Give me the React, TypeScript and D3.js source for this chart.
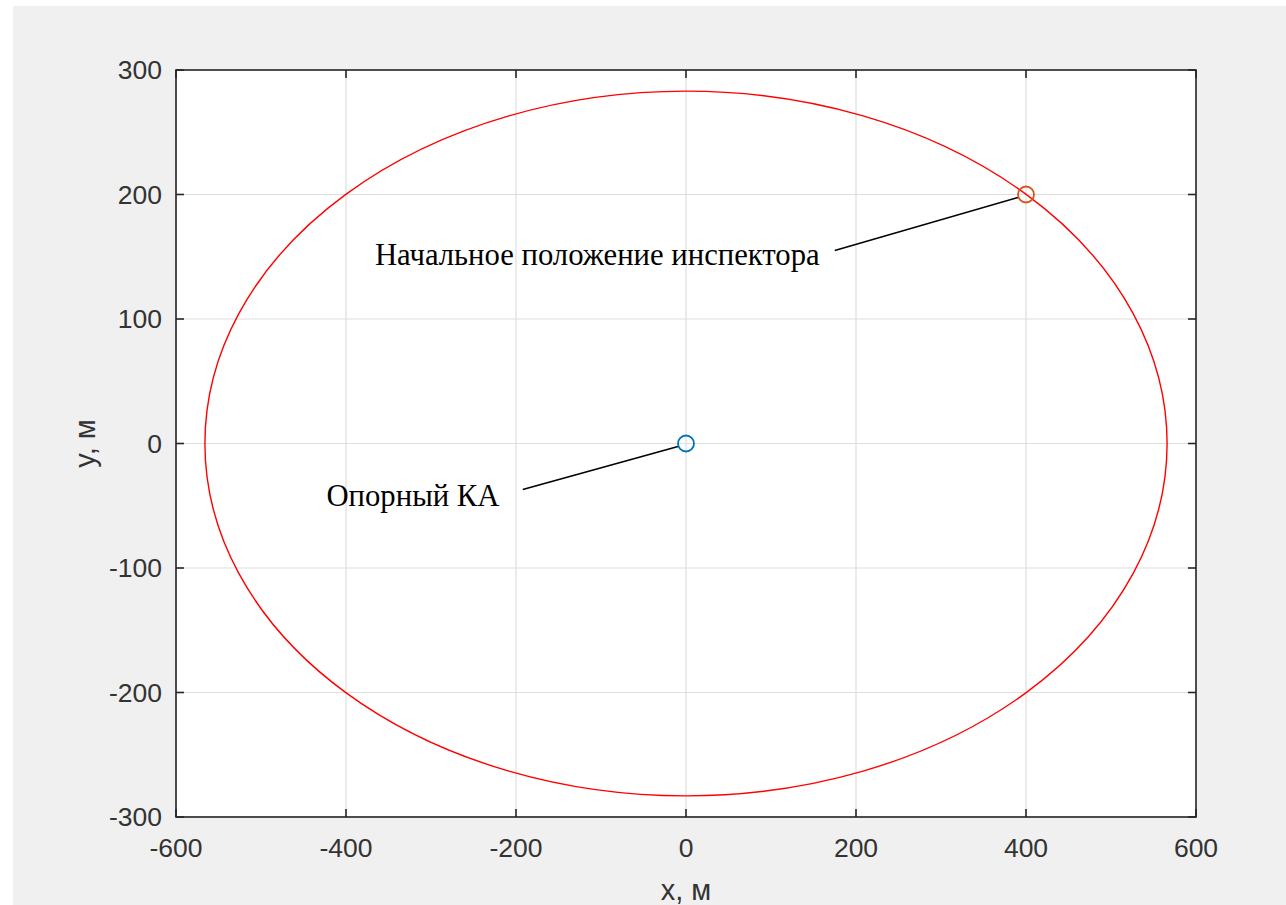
import React from "react";
import * as d3 from "d3";

const W = 1286;
const H = 905;

// Axis domains and ticks
const xDomain: [number, number] = [-600, 600];
const yDomain: [number, number] = [-300, 300];
const xTicks = [-600, -400, -200, 0, 200, 400, 600];
const yTicks = [-300, -200, -100, 0, 100, 200, 300];

// Relative orbit ellipse (center and semi-axes, metres)
const orbitCenter = [0, 0];
const orbitSemiAxes = [566, 283];

// Markers
const inspectorStart = [400, 200];
const referenceSat = [0, 0];

// Annotations (data coordinates)
const annotTexts = ["Начальное положение инспектора", "Опорный КА"];
const annotTextPos = [
  [-366, 143],
  [-423, -50],
];
const annotLineStart = [
  [175, 155],
  [-192, -37],
];
const annotTargets = [inspectorStart, referenceSat];

const xLabel = "x, м";
const yLabel = "y, м";

const M = { left: 176, right: 1196, top: 70, bottom: 817 };

export default function App() {
  const x = d3.scaleLinear().domain(xDomain).range([M.left, M.right]);
  const y = d3.scaleLinear().domain(yDomain).range([M.bottom, M.top]);
  const axisColor = "#262626";
  const tickLen = 8;
  const sans = "'Liberation Sans', Arial, sans-serif";
  const serif = "'Liberation Serif', 'Times New Roman', serif";

  return (
    <svg
      width={W}
      height={H}
      style={{ position: "absolute", left: 0, top: 0, display: "block" }}
    >
      <rect x={0} y={0} width={W} height={H} fill="#ffffff" />
      <rect x={13} y={6} width={W - 13} height={H - 6} fill="#f0f0f0" />
      <rect
        x={M.left}
        y={M.top}
        width={M.right - M.left}
        height={M.bottom - M.top}
        fill="#ffffff"
      />
      {/* grid */}
      <g stroke="#dedede" strokeWidth={1.2}>
        {xTicks.map((t) => (
          <line key={"gx" + t} x1={x(t)} x2={x(t)} y1={M.top} y2={M.bottom} />
        ))}
        {yTicks.map((t) => (
          <line key={"gy" + t} x1={M.left} x2={M.right} y1={y(t)} y2={y(t)} />
        ))}
      </g>
      {/* orbit */}
      <ellipse
        cx={x(orbitCenter[0])}
        cy={y(orbitCenter[1])}
        rx={x(orbitSemiAxes[0]) - x(0)}
        ry={y(0) - y(orbitSemiAxes[1])}
        fill="none"
        stroke="#ff0000"
        strokeWidth={1.4}
      />
      {/* annotation lines */}
      {annotTargets.map((p, i) => (
        <line
          key={"al" + i}
          x1={x(annotLineStart[i][0])}
          y1={y(annotLineStart[i][1])}
          x2={x(p[0]) - 8}
          y2={y(p[1]) + 3}
          stroke="#000"
          strokeWidth={1.6}
        />
      ))}
      {/* markers */}
      <circle
        cx={x(inspectorStart[0])}
        cy={y(inspectorStart[1])}
        r={8}
        fill="none"
        stroke="#D95319"
        strokeWidth={1.8}
      />
      <circle
        cx={x(referenceSat[0])}
        cy={y(referenceSat[1])}
        r={8}
        fill="none"
        stroke="#0072BD"
        strokeWidth={1.8}
      />
      {/* annotation texts */}
      {annotTexts.map((t, i) => (
        <text
          key={"at" + i}
          x={x(annotTextPos[i][0])}
          y={y(annotTextPos[i][1])}
          fontFamily={serif}
          fontSize={30.7}
          fill="#000"
        >
          {t}
        </text>
      ))}
      {/* box */}
      <rect
        x={M.left}
        y={M.top}
        width={M.right - M.left}
        height={M.bottom - M.top}
        fill="none"
        stroke={axisColor}
        strokeWidth={1.6}
      />
      {/* ticks */}
      <g stroke={axisColor} strokeWidth={1.6}>
        {xTicks.map((t) => (
          <g key={"tx" + t}>
            <line x1={x(t)} x2={x(t)} y1={M.bottom} y2={M.bottom - tickLen} />
            <line x1={x(t)} x2={x(t)} y1={M.top} y2={M.top + tickLen} />
          </g>
        ))}
        {yTicks.map((t) => (
          <g key={"ty" + t}>
            <line x1={M.left} x2={M.left + tickLen} y1={y(t)} y2={y(t)} />
            <line x1={M.right} x2={M.right - tickLen} y1={y(t)} y2={y(t)} />
          </g>
        ))}
      </g>
      {/* tick labels */}
      <g fontFamily={sans} fontSize={26.5} fill="#333333">
        {xTicks.map((t) => (
          <text
            key={"lx" + t}
            x={x(t)}
            y={M.bottom + 40}
            textAnchor="middle"
          >
            {t}
          </text>
        ))}
        {yTicks.map((t) => (
          <text
            key={"ly" + t}
            x={M.left - 14}
            y={y(t) + 9}
            textAnchor="end"
          >
            {t}
          </text>
        ))}
      </g>
      {/* axis labels */}
      <text
        x={(M.left + M.right) / 2}
        y={900}
        textAnchor="middle"
        fontFamily={sans}
        fontSize={29}
        fill="#333333"
      >
        {xLabel}
      </text>
      <text
        transform={`translate(95, ${(M.top + M.bottom) / 2}) rotate(-90)`}
        textAnchor="middle"
        fontFamily={sans}
        fontSize={29}
        fill="#333333"
      >
        {yLabel}
      </text>
    </svg>
  );
}
